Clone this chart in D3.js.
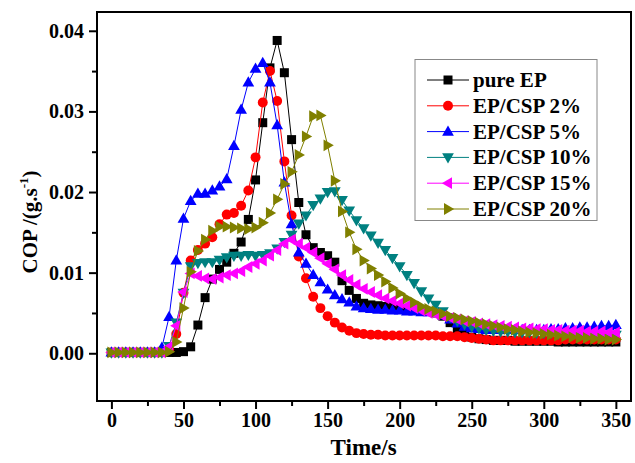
<!DOCTYPE html>
<html lang="en">
<head>
<meta charset="UTF-8">
<title>COP</title>
<script src="https://d3js.org/d3.v7.min.js"></script>
<style>
    body { margin: 0; background: #fff; }
    text { font-family: 'Liberation Serif', 'Times New Roman', serif; font-weight: bold; }
</style>
</head>
<body>
<script>
    const width = 635;
    const height = 463;

    const times = [0,5,10,15,20,25,30,35,40,45,50,55,60,65,70,75,80,85,90,95,
        100,105,110,115,120,125,130,135,140,145,150,155,160,165,170,175,180,185,190,195,
        200,205,210,215,220,225,230,235,240,245,250,255,260,265,270,275,280,285,290,295,
        300,305,310,315,320,325,330,335,340,345,350];

    const pureEP = [0.0001,0.0001,0.0001,0.0001,0.0001,0.0001,0.0001,0.0001,0.0001,0.0001,
        0.0002,0.0008,0.0035,0.0069,0.0092,0.0104,0.0113,0.0124,0.0138,0.0166,
        0.0215,0.0286,0.0354,0.0388,0.0348,0.0265,0.0187,0.0147,0.0131,0.0125,
        0.0121,0.0113,0.0090,0.0078,0.0068,0.0062,0.0060,0.0059,0.0058,0.0057,
        0.0056,0.0055,0.0054,0.0053,0.0052,0.0050,0.0046,0.0038,0.0030,0.0024,
        0.0020,0.0018,0.0017,0.0016,0.0016,0.0016,0.0015,0.0015,0.0015,0.0015,
        0.0015,0.0015,0.0014,0.0014,0.0014,0.0014,0.0014,0.0014,0.0014,0.0014,0.0014];

    const csp2 = [0.0001,0.0001,0.0001,0.0001,0.0001,0.0001,0.0001,0.0001,0.0005,0.0024,
        0.0075,0.0115,0.0128,0.0136,0.0144,0.0160,0.0172,0.0174,0.0183,0.0202,
        0.0243,0.0311,0.0350,0.0313,0.0238,0.0171,0.0120,0.0093,0.0070,0.0056,
        0.0046,0.0038,0.0032,0.0028,0.0025,0.0024,0.0023,0.0023,0.0022,0.0022,
        0.0022,0.0022,0.0022,0.0022,0.0022,0.0022,0.0021,0.0021,0.0021,0.0020,
        0.0019,0.0018,0.0017,0.0016,0.0016,0.0016,0.0016,0.0016,0.0016,0.0016,
        0.0016,0.0016,0.0016,0.0017,0.0017,0.0017,0.0017,0.0017,0.0017,0.0017,0.0017];

    const csp5 = [0.0001,0.0001,0.0001,0.0001,0.0001,0.0001,0.0001,0.0007,0.0045,0.0115,
        0.0167,0.0189,0.0198,0.0198,0.0202,0.0207,0.0216,0.0257,0.0302,0.0336,
        0.0353,0.0360,0.0336,0.0283,0.0212,0.0160,0.0125,0.0111,0.0097,0.0088,
        0.0079,0.0072,0.0067,0.0063,0.0058,0.0056,0.0055,0.0054,0.0054,0.0053,
        0.0053,0.0052,0.0052,0.0051,0.0051,0.0050,0.0047,0.0042,0.0037,0.0033,
        0.0031,0.0030,0.0029,0.0029,0.0029,0.0029,0.0029,0.0029,0.0029,0.0029,
        0.0029,0.0030,0.0030,0.0031,0.0031,0.0032,0.0032,0.0033,0.0034,0.0034,0.0035];

    const csp10 = [0.0001,0.0001,0.0001,0.0001,0.0001,0.0001,0.0001,0.0001,0.0009,0.0038,
        0.0075,0.0108,0.0112,0.0113,0.0113,0.0116,0.0119,0.0121,0.0121,0.0122,
        0.0121,0.0122,0.0124,0.0130,0.0138,0.0147,0.0161,0.0171,0.0184,0.0192,
        0.0200,0.0201,0.0190,0.0177,0.0165,0.0155,0.0146,0.0137,0.0128,0.0118,
        0.0108,0.0097,0.0087,0.0077,0.0068,0.0060,0.0052,0.0045,0.0040,0.0036,
        0.0033,0.0031,0.0029,0.0028,0.0027,0.0027,0.0026,0.0026,0.0026,0.0025,
        0.0025,0.0025,0.0024,0.0024,0.0024,0.0024,0.0023,0.0023,0.0023,0.0023,0.0023];

    const csp15 = [0.0001,0.0001,0.0001,0.0001,0.0001,0.0001,0.0001,0.0001,0.0008,0.0034,
        0.0076,0.0099,0.0096,0.0093,0.0092,0.0094,0.0097,0.0099,0.0102,0.0107,
        0.0111,0.0115,0.0121,0.0128,0.0136,0.0141,0.0136,0.0131,0.0125,0.0118,
        0.0111,0.0104,0.0097,0.0091,0.0085,0.0080,0.0076,0.0072,0.0068,0.0065,
        0.0062,0.0059,0.0056,0.0053,0.0050,0.0048,0.0046,0.0044,0.0042,0.0040,
        0.0039,0.0037,0.0036,0.0035,0.0034,0.0033,0.0032,0.0031,0.0031,0.0030,
        0.0030,0.0029,0.0029,0.0028,0.0028,0.0028,0.0027,0.0027,0.0027,0.0026,0.0026];

    const csp20 = [0.0001,0.0001,0.0001,0.0001,0.0001,0.0001,0.0001,0.0001,0.0002,0.0014,
        0.0056,0.0101,0.0127,0.0141,0.0152,0.0157,0.0157,0.0156,0.0155,0.0154,
        0.0156,0.0162,0.0174,0.0191,0.0210,0.0225,0.0246,0.0269,0.0294,0.0295,
        0.0258,0.0214,0.0176,0.0150,0.0129,0.0115,0.0105,0.0097,0.0089,0.0081,
        0.0074,0.0068,0.0063,0.0058,0.0055,0.0052,0.0049,0.0046,0.0044,0.0042,
        0.0040,0.0038,0.0036,0.0034,0.0032,0.0030,0.0029,0.0027,0.0026,0.0025,
        0.0024,0.0023,0.0022,0.0021,0.0020,0.0019,0.0019,0.0018,0.0018,0.0017,0.0017];

    const seriesNames = ["pure EP", "EP/CSP 2%", "EP/CSP 5%", "EP/CSP 10%", "EP/CSP 15%", "EP/CSP 20%"];
    const seriesValues = [pureEP, csp2, csp5, csp10, csp15, csp20];
    const colors = ["#000000", "#ff0000", "#0000ff", "#008080", "#ff00ff", "#808000"];
    const xTicks = [0, 50, 100, 150, 200, 250, 300, 350];
    const yTicks = [0.00, 0.01, 0.02, 0.03, 0.04];

    const plot = {left: 97, right: 631, top: 12, bottom: 401};

    const x = d3.scaleLinear().domain([-10, 360.5]).range([plot.left, plot.right]);
    const y = d3.scaleLinear().domain([-0.00592, 0.04233]).range([plot.bottom, plot.top]);

    const svg = d3.select("body").append("svg").attr("width", width).attr("height", height);

    // frame
    svg.append("rect")
        .attr("x", plot.left).attr("y", plot.top)
        .attr("width", plot.right - plot.left).attr("height", plot.bottom - plot.top)
        .attr("fill", "none").attr("stroke", "#000").attr("stroke-width", 2);

    // axes
    const xAxis = d3.axisBottom(x).tickValues(xTicks).tickSize(8).tickPadding(4).tickFormat(d3.format("d"));
    const xMinor = d3.axisBottom(x).tickValues(d3.range(25, 351, 50)).tickSize(5).tickFormat("");
    const yAxis = d3.axisLeft(y).tickValues(yTicks).tickSize(8).tickPadding(5).tickFormat(d3.format(".2f"));
    const yMinor = d3.axisLeft(y).tickValues([0.005, 0.015, 0.025, 0.035]).tickSize(5).tickFormat("");

    [xAxis, xMinor].forEach(a => svg.append("g")
        .attr("transform", "translate(0," + plot.bottom + ")")
        .call(a)
        .call(g => g.select(".domain").remove())
        .call(g => g.selectAll("line").attr("stroke-width", 2))
        .call(g => g.selectAll("text").attr("font-size", 20).attr("fill", "#000")));

    [yAxis, yMinor].forEach(a => svg.append("g")
        .attr("transform", "translate(" + plot.left + ",0)")
        .call(a)
        .call(g => g.select(".domain").remove())
        .call(g => g.selectAll("line").attr("stroke-width", 2))
        .call(g => g.selectAll("text").attr("font-size", 20).attr("fill", "#000")));

    // axis titles
    svg.append("text")
        .attr("x", (x(0) + x(350)) / 2).attr("y", 455)
        .attr("text-anchor", "middle").attr("font-size", 23)
        .text("Time/s");

    const yTitle = svg.append("text")
        .attr("transform", "translate(37,222) rotate(-90)")
        .attr("text-anchor", "middle").attr("font-size", 21);
    yTitle.append("tspan").text("COP /(g.s");
    yTitle.append("tspan").attr("font-size", 13).attr("dy", -9).text("-1");
    yTitle.append("tspan").attr("dy", 9).text(")");

    const symbols = [
        d3.symbol().type(d3.symbolSquare).size(81),
        d3.symbol().type(d3.symbolCircle).size(78)
    ];

    function marker(sel, i) {
        if (i < 2) {
            sel.attr("d", symbols[i]());
            return;
        }
        const r = 6.2;
        // up, down, left, right triangles
        const tri = {
            2: [[0, -r], [r * 0.95, r * 0.65], [-r * 0.95, r * 0.65]],
            3: [[0, r], [r * 0.95, -r * 0.65], [-r * 0.95, -r * 0.65]],
            4: [[-r, 0], [r * 0.65, -r * 0.95], [r * 0.65, r * 0.95]],
            5: [[r, 0], [-r * 0.65, -r * 0.95], [-r * 0.65, r * 0.95]]
        }[i];
        sel.attr("d", "M" + tri.map(p => p.join(",")).join("L") + "Z");
    }

    const line = d3.line().x(d => x(d[0])).y(d => y(d[1]));

    seriesValues.forEach((vals, i) => {
        const pts = times.map((t, k) => [t, vals[k]]);
        const g = svg.append("g");
        g.append("path")
            .attr("d", line(pts))
            .attr("fill", "none")
            .attr("stroke", colors[i])
            .attr("stroke-width", 1);
        g.selectAll(".pt")
            .data(pts)
            .enter().append("path")
            .attr("class", "pt")
            .attr("transform", d => "translate(" + x(d[0]) + "," + y(d[1]) + ")")
            .attr("fill", colors[i])
            .call(marker, i);
    });

    // legend
    const legend = svg.append("g");
    legend.append("rect")
        .attr("x", 415).attr("y", 59.5).attr("width", 182).attr("height", 161)
        .attr("fill", "#fff").attr("stroke", "#888").attr("stroke-width", 1);
    const rowY = d3.scaleLinear().domain([0, 5]).range([80, 209]);
    seriesNames.forEach((name, i) => {
        const ly = rowY(i);
        legend.append("line")
            .attr("x1", 427).attr("x2", 469).attr("y1", ly).attr("y2", ly)
            .attr("stroke", colors[i]).attr("stroke-width", 1);
        legend.append("path")
            .attr("transform", "translate(448," + ly + ")")
            .attr("fill", colors[i])
            .call(marker, i);
        legend.append("text")
            .attr("x", 473).attr("y", ly + 7)
            .attr("font-size", 21)
            .text(name);
    });
</script>
</body>
</html>
